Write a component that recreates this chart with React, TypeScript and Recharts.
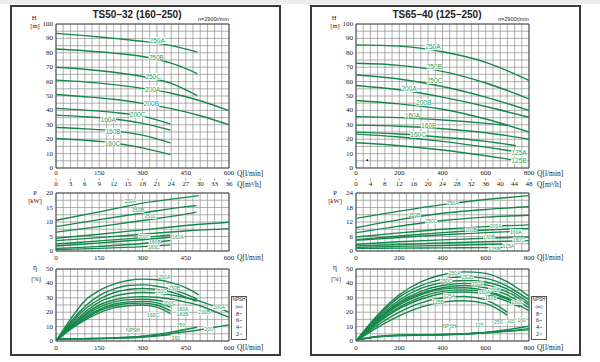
import { LineChart, Line, XAxis, YAxis, CartesianGrid, ReferenceDot, ReferenceArea } from "recharts";

type Pt = [number, number];
type Tag = [string, number, number];

const GREEN = "#15884a";
const TAG = "#2a9c5a";
const GRID = "#8e8e8e";
const INK = "#222";
const SERIF = '"Liberation Serif", "DejaVu Serif", serif';
const SANS = '"Liberation Sans", Arial, sans-serif';

// ---- axis ticks ----
const qLabelsL = [0, 150, 300, 450, 600];
const qLabelsR = [0, 200, 400, 600, 800];
const m3LabelsL = [0, 3, 6, 9, 12, 15, 18, 21, 24, 27, 30, 33, 36];
const m3LabelsR = [0, 4, 8, 12, 16, 20, 24, 28, 32, 36, 40, 44, 48];
const hLabels = [0, 10, 20, 30, 40, 50, 60, 70, 80, 90, 100];
const pLabelsL = [0, 5, 10, 15, 20];
const pLabelsR = [0, 6, 12, 18, 24];
const etaLabels = [0, 10, 20, 30, 40, 50];
const npshLabels = [2, 4, 6, 8];

const qGridL = Array.from({ length: 25 }, (_, i) => i * 25);
const qGridR = Array.from({ length: 25 }, (_, i) => (i * 800) / 24);
const hGrid = Array.from({ length: 21 }, (_, i) => i * 5);
const pGridL = Array.from({ length: 9 }, (_, i) => i * 2.5);
const pGridR = Array.from({ length: 9 }, (_, i) => i * 3);
const etaGrid = Array.from({ length: 11 }, (_, i) => i * 5);

// ---- TS50-32 head (Q l/min, H m) ----
const hL250A: Pt[] = [[0, 93.5], [100, 91.9], [200, 90], [300, 88], [400, 85], [490, 80.5]];
const hL250B: Pt[] = [[0, 82.6], [100, 81.4], [200, 79.8], [300, 77.4], [400, 72.8], [490, 65.6]];
const hL250C: Pt[] = [[0, 70], [100, 68.6], [200, 66.5], [300, 63.5], [400, 58.8], [490, 50.2]];
const hL200A: Pt[] = [[0, 61], [100, 59.8], [200, 57.9], [300, 55.3], [400, 51.9], [500, 46.7], [600, 39.8]];
const hL200B: Pt[] = [[0, 51], [100, 49.5], [200, 47.7], [300, 44.9], [400, 41.2], [500, 36.3], [600, 30]];
const hL200C: Pt[] = [[0, 41.4], [100, 40.2], [200, 38.6], [300, 36], [397, 30.5]];
const hL160A: Pt[] = [[0, 36.7], [100, 35.6], [200, 34], [300, 31], [397, 26.3]];
const hL160B: Pt[] = [[0, 28.1], [100, 27.2], [200, 25.8], [300, 22.8], [397, 17.4]];
const hL160C: Pt[] = [[0, 20.5], [100, 19.3], [200, 17.4], [300, 14], [397, 9.3]];
const hTagsL: Tag[] = [["250A", 351, 88.5], ["250B", 348, 77], ["250C", 337, 63.5], ["200A", 335, 54.7], ["200B", 331, 44.7], ["200C", 283, 37.2], ["160A", 181, 34], ["160B", 198, 25.5], ["160C", 196, 17.2]];

// ---- TS50-32 power (kW) ----
const pL250A: Pt[] = [[0, 10.6], [150, 13.5], [300, 16.5], [450, 18.5], [495, 19.1]];
const pL250B: Pt[] = [[0, 8.4], [150, 10.8], [300, 13.1], [450, 15.3], [487, 15.7]];
const pL250C: Pt[] = [[0, 6.5], [150, 8.4], [300, 10.5], [450, 12.7], [487, 13.4]];
const pL200A: Pt[] = [[0, 4.4], [150, 5.8], [300, 7.3], [450, 8.8], [600, 9.9]];
const pL200B: Pt[] = [[0, 3.6], [150, 4.6], [300, 5.8], [450, 6.9], [600, 7.7]];
const pL200C: Pt[] = [[0, 2.4], [150, 3.5], [300, 4.6], [397, 5.5]];
const pL160A: Pt[] = [[0, 1.7], [150, 2.8], [300, 3.9], [397, 4.7]];
const pL160B: Pt[] = [[0, 0.9], [150, 1.6], [300, 2.6], [397, 3.6]];
const pL160C: Pt[] = [[0, 0.5], [150, 0.9], [300, 1.5], [397, 2.1]];
const pTagsL: Tag[] = [["250A", 258, 17.1], ["250B", 285, 14], ["250C", 328, 11.9], ["200C", 306, 5], ["160A", 423, 4.7], ["160B", 343, 3], ["160C", 339, 1.4]];

// ---- TS50-32 efficiency (%) ----
const eL250A: Pt[] = [[0, 0], [50, 15], [100, 28], [150, 35], [200, 39.5], [250, 42], [300, 43], [350, 42.5], [400, 40.5], [450, 37], [495, 32]];
const eL250B: Pt[] = [[0, 0], [50, 13], [100, 24], [150, 31.5], [200, 36], [250, 38.5], [300, 39], [350, 38], [400, 36], [450, 32.5], [490, 29]];
const eL250C: Pt[] = [[0, 0], [50, 12], [100, 22], [150, 29], [200, 33.5], [250, 35.8], [300, 36.5], [350, 35.8], [400, 34], [450, 30.5], [487, 27.5]];
const eL200A: Pt[] = [[0, 0], [50, 11], [100, 20], [150, 27], [200, 31], [250, 33], [300, 33.7], [350, 33.3], [400, 32], [450, 30], [500, 27.5], [550, 24], [600, 20]];
const eL200B: Pt[] = [[0, 0], [50, 10], [100, 18.5], [150, 25], [200, 28.5], [250, 30.3], [300, 30.8], [350, 30.4], [400, 29], [450, 27], [500, 24.5], [550, 20.5], [600, 16.5]];
const eL200C: Pt[] = [[0, 0], [50, 9.5], [100, 17.5], [150, 23.5], [200, 27], [250, 28.7], [300, 29], [350, 28.3], [397, 26]];
const eL160A: Pt[] = [[0, 0], [50, 9], [100, 16.5], [150, 22], [200, 25.5], [250, 27.2], [300, 27.5], [350, 26.5], [397, 23.5]];
const eL160B: Pt[] = [[0, 0], [50, 8.5], [100, 15.5], [150, 21], [200, 24.3], [250, 26], [300, 26.3], [350, 25], [397, 21]];
const eL160C: Pt[] = [[0, 0], [50, 8], [100, 14.5], [150, 19.5], [200, 23], [250, 24.5], [300, 25], [350, 23.5], [397, 19]];
const eTagsL: Tag[] = [["250A", 376, 44.7], ["250B", 410, 36.7], ["250C", 364, 34.4], ["200C", 393, 26.7], ["160A", 439, 22.1], ["160B", 439, 18.6], ["160C", 336, 18.1], ["200A", 566, 23.3], ["200B", 514, 19.8]];

// ---- TS50-32 NPSH (m) ----
const nL250: Pt[] = [[0, 0.6], [100, 0.7], [200, 0.9], [300, 1.4], [400, 2.6], [490, 4]];
const nL200: Pt[] = [[0, 0.6], [100, 0.7], [200, 0.9], [300, 1.3], [400, 2.2], [500, 3.3], [600, 4.7]];
const nL160: Pt[] = [[0, 0.6], [100, 0.6], [200, 0.8], [300, 1.1], [397, 1.8]];
const nTagsL: Tag[] = [["NPSH", 267, 3.1], ["250", 433, 4.7], ["200", 529, 3.6], ["160", 416, 1]];

// ---- TS65-40 head ----
const hR250A: Pt[] = [[0, 85.5], [200, 84.6], [400, 80.7], [600, 73.4], [800, 60.8]];
const hR250B: Pt[] = [[0, 72.7], [200, 71.3], [400, 67.1], [600, 59], [800, 48]];
const hR250C: Pt[] = [[0, 64.6], [200, 61.8], [400, 56.6], [600, 49.2], [800, 39.9]];
const hR200A: Pt[] = [[0, 57.3], [200, 54.3], [400, 49.2], [600, 42.7], [800, 35.2]];
const hR200B: Pt[] = [[0, 46.9], [200, 44.5], [400, 40.8], [600, 34], [800, 25]];
const hR160A: Pt[] = [[0, 35.7], [200, 35], [400, 33.3], [600, 31], [700, 29.6]];
const hR160B: Pt[] = [[0, 29.8], [200, 29], [400, 27.3], [600, 24.5], [800, 20]];
const hR160C: Pt[] = [[0, 24.9], [200, 23.6], [400, 21.4], [600, 18.5], [740, 15.5]];
const hR125A: Pt[] = [[0, 23.5], [200, 21.5], [400, 18.5], [600, 14.5], [720, 11.8]];
const hR125B: Pt[] = [[0, 17.5], [200, 15.5], [400, 12.5], [600, 8.5], [720, 5.8]];
const hTagsR: Tag[] = [["250A", 356, 84.1], ["250B", 363, 70.2], ["250C", 363, 60.6], ["200A", 245, 55], ["200B", 313, 45.5], ["160A", 261, 36.8], ["160B", 336, 29.8], ["160C", 287, 23.3], ["125A", 754, 10.5], ["125B", 754, 4.9]];

// ---- TS65-40 power ----
const pR250A: Pt[] = [[0, 13.5], [200, 16.5], [400, 19.2], [600, 21.3], [800, 22.9]];
const pR250B: Pt[] = [[0, 9.6], [200, 13], [400, 15.6], [600, 17.2], [800, 18.3]];
const pR250C: Pt[] = [[0, 7.6], [200, 10.3], [400, 12.6], [600, 14], [800, 14.8]];
const pR200A: Pt[] = [[0, 5.8], [200, 7.5], [400, 9], [600, 10.1], [800, 10.8]];
const pR200B: Pt[] = [[0, 4.7], [200, 6.2], [400, 7.6], [600, 8.7], [800, 9.3]];
const pR160A: Pt[] = [[0, 4.4], [200, 5.6], [400, 6.7], [600, 7.6], [760, 8.2]];
const pR160B: Pt[] = [[0, 2.8], [200, 3.8], [400, 4.6], [600, 5.3], [800, 5.8]];
const pR160C: Pt[] = [[0, 2.1], [200, 2.7], [400, 3.3], [600, 3.8], [800, 4.3]];
const pR125A: Pt[] = [[0, 1.5], [200, 1.9], [400, 2.3], [600, 2.7], [710, 2.9]];
const pR125B: Pt[] = [[0, 1.1], [200, 1.2], [400, 1.3], [600, 1.4], [710, 1.5]];
const pTagsR: Tag[] = [["250A", 447, 19.7], ["250B", 271, 14.9], ["250C", 348, 12.4], ["200A", 647, 10.3], ["200B", 532, 8.7], ["160A", 739, 8], ["160B", 616, 5.7], ["160C", 752, 4.6], ["125A", 705, 2.2], ["125B", 640, 1.0]];

// ---- TS65-40 efficiency ----
const eR250A: Pt[] = [[0, 0], [100, 18], [200, 32], [300, 41], [400, 46], [500, 48], [600, 47], [700, 41], [800, 31]];
const eR250B: Pt[] = [[0, 0], [100, 17], [200, 30.5], [300, 38.5], [400, 43], [500, 44.5], [600, 43.5], [700, 38], [800, 28.5]];
const eR250C: Pt[] = [[0, 0], [100, 16], [200, 28.5], [300, 36.5], [400, 40.5], [500, 42], [600, 41], [700, 36], [800, 26.5]];
const eR200A: Pt[] = [[0, 0], [100, 15], [200, 27], [300, 34.5], [400, 38.5], [500, 40], [600, 39], [700, 34], [800, 25]];
const eR200B: Pt[] = [[0, 0], [100, 14.5], [200, 26], [300, 33], [400, 37], [500, 38.5], [600, 37], [700, 32], [800, 23]];
const eR160A: Pt[] = [[0, 0], [100, 14], [200, 25], [300, 32], [400, 36], [500, 37], [600, 35], [700, 30], [740, 27]];
const eR160B: Pt[] = [[0, 0], [100, 13], [200, 23.5], [300, 30.5], [400, 34.5], [500, 35.5], [600, 34], [700, 29], [800, 21]];
const eR160C: Pt[] = [[0, 0], [100, 12.5], [200, 22.5], [300, 29], [400, 33], [500, 34], [600, 32.5], [700, 27.5], [760, 23.5]];
const eR125A: Pt[] = [[0, 0], [100, 11], [200, 20], [300, 26.5], [400, 30], [500, 31], [600, 28.5], [700, 20]];
const eR125B: Pt[] = [[0, 0], [100, 9.5], [200, 17.5], [300, 23.5], [400, 27], [500, 28], [600, 26], [700, 18]];
const eTagsR: Tag[] = [["250A", 455, 47.5], ["250B", 516, 44.5], ["250C", 417, 41.9], ["200A", 562, 39.6], ["200B", 640, 35.5], ["160A", 593, 33.8], ["160B", 624, 29.6], ["160C", 746, 26.9], ["125A", 432, 31.5], ["125B", 379, 27.3]];

// ---- TS65-40 NPSH ----
const nR125: Pt[] = [[0, 0.3], [100, 1.3], [200, 1.7], [300, 1.8], [400, 1.9], [500, 2.1], [600, 2.5], [700, 3]];
const nR250: Pt[] = [[0, 0.3], [100, 1.3], [200, 1.7], [300, 1.8], [400, 1.9], [500, 2.1], [600, 2.4], [700, 2.8], [800, 3.3]];
const nR200: Pt[] = [[0, 0.3], [100, 1.2], [200, 1.6], [300, 1.7], [400, 1.8], [500, 2], [600, 2.4], [700, 2.9], [800, 3.6]];
const nR160: Pt[] = [[0, 0.3], [100, 1.2], [200, 1.6], [300, 1.7], [400, 1.8], [500, 2], [600, 2.5], [700, 3.3], [800, 4.3]];
const nTagsR: Tag[] = [["NPSH", 432, 4.5], ["125", 570, 4.7], ["250", 659, 5.4], ["200", 716, 5.7], ["160", 766, 6.2]];

const rows = (pts: Pt[]) => pts.map(([q, v]) => ({ q, v }));

function QTick(props: any) {
  const { x, y, payload, labels, dy, unit, last, marks } = props;
  const v = payload.value;
  if (!labels.some((l: number) => Math.abs(l - v) < 1e-6)) return <g />;
  return (
    <g>
      {marks && <line x1={x} x2={x} y1={y + 0.5} y2={y + 2.5} stroke="#444" strokeWidth={0.6} />}
      <text x={x} y={y + dy} textAnchor="middle" dominantBaseline="central" fontSize={7} fontFamily={SERIF} fill={INK}>
        {Math.round(v)}
      </text>
      {unit && Math.abs(v - last) < 1e-6 && (
        <text x={x + 8} y={y + dy} textAnchor="start" dominantBaseline="central" fontSize={7.5} fontFamily={SERIF} fill={INK}>
          {unit}
        </text>
      )}
    </g>
  );
}

function YTick(props: any) {
  const { x, y, payload, labels } = props;
  const v = payload.value;
  if (!labels.some((l: number) => Math.abs(l - v) < 1e-6)) return <g />;
  return (
    <text x={x - 3} y={y} textAnchor="end" dominantBaseline="central" fontSize={7} fontFamily={SERIF} fill={INK}>
      {v}
    </text>
  );
}

function NpshTick(props: any) {
  const { x, y, payload } = props;
  return (
    <g>
      <text x={x + 10} y={y} textAnchor="end" dominantBaseline="central" fontSize={6} fontFamily={SERIF} fill={INK}>
        {payload.value}
      </text>
      <line x1={x + 10.5} x2={x + 13} y1={y} y2={y} stroke="#444" strokeWidth={0.6} />
    </g>
  );
}

function CurveTag({ cx, cy, text, size }: { cx: number; cy: number; text: string; size: number }) {
  const w = text.length * size * 0.56 + 1;
  const h = size;
  return (
    <g>
      <rect x={cx - w / 2} y={cy - h / 2} width={w} height={h} fill="#fff" />
      <text x={cx} y={cy} textAnchor="middle" dominantBaseline="central" fontSize={size} fontFamily={SANS} fill={TAG}>
        {text}
      </text>
    </g>
  );
}

interface PlotProps {
  left: number;
  top: number;
  height: number;
  marginTop: number;
  axisH: number;
  labelDy: number;
  tagSize: number;
  qMax: number;
  qGrid: number[];
  qLabels: number[];
  yMax: number;
  yGrid: number[];
  yLabels: number[];
  curves: Pt[][];
  tags: Tag[];
  m3?: number[];
  npsh?: Pt[][];
  npshTags?: Tag[];
  strays?: Pt[];
}

function Plot(p: PlotProps) {
  const hasN = !!p.npsh;
  return (
    <div style={{ position: "absolute", left: p.left, top: p.top }}>
      <LineChart width={258} height={p.height} margin={{ top: p.marginTop, right: hasN ? 25 : 43, left: 0, bottom: 0 }}>
        <CartesianGrid stroke={GRID} strokeWidth={0.7} />
        <XAxis
          dataKey="q"
          type="number"
          domain={[0, p.qMax]}
          allowDataOverflow
          ticks={p.qGrid}
          interval={0}
          height={p.axisH}
          tickSize={0}
          tickMargin={0}
          axisLine={false}
          tickLine={false}
          tick={<QTick labels={p.qLabels} dy={p.labelDy} unit="Q[l/min]" last={p.qMax} />}
        />
        {p.m3 && (
          <XAxis
            xAxisId="m3"
            dataKey="q"
            type="number"
            domain={[0, p.m3[p.m3.length - 1]]}
            allowDataOverflow
            ticks={p.m3}
            interval={0}
            height={12}
            tickSize={0}
            tickMargin={0}
            axisLine={false}
            tickLine={false}
            tick={<QTick labels={p.m3} dy={6} unit="Q[m³/h]" last={p.m3[p.m3.length - 1]} marks />}
          />
        )}
        <YAxis
          type="number"
          domain={[0, p.yMax]}
          allowDataOverflow
          ticks={p.yGrid}
          interval={0}
          width={42}
          tickSize={0}
          tickMargin={0}
          axisLine={false}
          tickLine={false}
          tick={<YTick labels={p.yLabels} />}
        />
        {hasN && (
          <YAxis
            yAxisId="npsh"
            orientation="right"
            type="number"
            domain={[0, 21]}
            allowDataOverflow
            ticks={npshLabels}
            interval={0}
            width={18}
            tickSize={0}
            tickMargin={0}
            axisLine={false}
            tickLine={false}
            tick={<NpshTick />}
          />
        )}
        <ReferenceArea x1={0} x2={p.qMax} y1={0} y2={p.yMax} fill="none" stroke="#3a3a3a" strokeWidth={0.9} />
        {p.curves.map((c, i) => (
          <Line
            key={"c" + i}
            data={rows(c)}
            dataKey="v"
            type="monotone"
            stroke={GREEN}
            strokeWidth={1.4}
            dot={false}
            activeDot={false}
            isAnimationActive={false}
          />
        ))}
        {p.npsh?.map((c, i) => (
          <Line
            key={"n" + i}
            yAxisId="npsh"
            data={rows(c)}
            dataKey="v"
            type="monotone"
            stroke={GREEN}
            strokeWidth={1.4}
            dot={false}
            activeDot={false}
            isAnimationActive={false}
          />
        ))}
        {p.tags.map(([t, q, v]) => (
          <ReferenceDot
            key={"t" + t}
            x={q}
            y={v}
            r={3}
            shape={(s: any) => <CurveTag cx={s.cx} cy={s.cy} text={t} size={p.tagSize} />}
          />
        ))}
        {p.npshTags?.map(([t, q, v]) => (
          <ReferenceDot
            key={"nt" + t}
            yAxisId="npsh"
            x={q}
            y={v}
            r={3}
            shape={(s: any) => <CurveTag cx={s.cx} cy={s.cy} text={t} size={p.tagSize} />}
          />
        ))}
        {p.strays?.map(([q, v], i) => (
          <ReferenceDot key={"s" + i} x={q} y={v} r={0.9} fill="#111" stroke="none" />
        ))}
      </LineChart>
    </div>
  );
}

const txt = (s: React.CSSProperties): React.CSSProperties => ({
  position: "absolute",
  whiteSpace: "nowrap",
  lineHeight: 1,
  color: INK,
  ...s,
});

function Panel(props: {
  ox: number;
  title: string;
  qMax: number;
  qGrid: number[];
  qLabels: number[];
  m3: number[];
  h: Pt[][];
  hTags: Tag[];
  pMax: number;
  pGrid: number[];
  pLabels: number[];
  pw: Pt[][];
  pTags: Tag[];
  eta: Pt[][];
  eTags: Tag[];
  npsh: Pt[][];
  nTags: Tag[];
  strays?: Pt[];
}) {
  const { ox } = props;
  const unit = (x: number, y: number, s: string, size = 6.5) => (
    <div style={txt({ left: ox + x, top: y, transform: "translate(-50%, -50%)", fontFamily: SERIF, fontSize: size })}>{s}</div>
  );
  return (
    <>
      <div
        style={{
          position: "absolute",
          left: ox + 10,
          top: 5,
          width: 271,
          height: 351,
          border: "2px solid #3a3a3a",
          boxSizing: "border-box",
          background: "#fff",
        }}
      />
      <div style={txt({ left: ox + 137, top: 15, transform: "translate(-50%, -50%)", fontFamily: SANS, fontWeight: 700, fontSize: 10 })}>
        {props.title}
      </div>
      <div style={txt({ left: ox + 198, top: 20, transform: "translateY(-50%)", fontFamily: SANS, fontSize: 5.5 })}>n=2900r/min</div>
      {unit(34, 18, "H")}
      {unit(35, 26, "[m]")}
      {unit(35, 193, "P")}
      {unit(35, 201, "[kW]")}
      {unit(35, 268, "η", 7.5)}
      {unit(36, 279, "[%]")}
      <Plot
        left={ox + 14}
        top={12}
        height={178}
        marginTop={12}
        axisH={10}
        labelDy={5}
        tagSize={6.5}
        qMax={props.qMax}
        qGrid={props.qGrid}
        qLabels={props.qLabels}
        yMax={100}
        yGrid={hGrid}
        yLabels={hLabels}
        curves={props.h}
        tags={props.hTags}
        m3={props.m3}
        strays={props.strays}
      />
      <Plot
        left={ox + 14}
        top={183}
        height={82}
        marginTop={10}
        axisH={14}
        labelDy={6.5}
        tagSize={5}
        qMax={props.qMax}
        qGrid={props.qGrid}
        qLabels={props.qLabels}
        yMax={props.pMax}
        yGrid={props.pGrid}
        yLabels={props.pLabels}
        curves={props.pw}
        tags={props.pTags}
      />
      <div
        style={{
          position: "absolute",
          left: ox + 231,
          top: 296,
          width: 16,
          height: 44,
          border: "1px solid #555",
          boxSizing: "border-box",
          background: "#fff",
        }}
      />
      <div style={txt({ left: ox + 239, top: 300, transform: "translate(-50%, -50%)", fontFamily: SANS, fontSize: 4.6 })}>NPSH</div>
      <div style={txt({ left: ox + 239, top: 306, transform: "translate(-50%, -50%)", fontFamily: SERIF, fontSize: 5 })}>(m)</div>
      <Plot
        left={ox + 14}
        top={259}
        height={96}
        marginTop={10}
        axisH={14}
        labelDy={6.5}
        tagSize={5}
        qMax={props.qMax}
        qGrid={props.qGrid}
        qLabels={props.qLabels}
        yMax={50}
        yGrid={etaGrid}
        yLabels={etaLabels}
        curves={props.eta}
        tags={props.eTags}
        npsh={props.npsh}
        npshTags={props.nTags}
      />
    </>
  );
}

export default function App() {
  return (
    <div style={{ position: "absolute", left: 0, top: 0, width: 600, height: 362, background: "#fff", overflow: "hidden" }}>
      <div style={{ position: "absolute", left: 0, top: 0, width: 600, height: 4, background: "#ececec" }} />
      <Panel
        ox={0}
        title="TS50–32 (160–250)"
        qMax={600}
        qGrid={qGridL}
        qLabels={qLabelsL}
        m3={m3LabelsL}
        h={[hL250A, hL250B, hL250C, hL200A, hL200B, hL200C, hL160A, hL160B, hL160C]}
        hTags={hTagsL}
        pMax={20}
        pGrid={pGridL}
        pLabels={pLabelsL}
        pw={[pL250A, pL250B, pL250C, pL200A, pL200B, pL200C, pL160A, pL160B, pL160C]}
        pTags={pTagsL}
        eta={[eL250A, eL250B, eL250C, eL200A, eL200B, eL200C, eL160A, eL160B, eL160C]}
        eTags={eTagsL}
        npsh={[nL250, nL200, nL160]}
        nTags={nTagsL}
      />
      <Panel
        ox={300}
        title="TS65–40 (125–250)"
        qMax={800}
        qGrid={qGridR}
        qLabels={qLabelsR}
        m3={m3LabelsR}
        h={[hR250A, hR250B, hR250C, hR200A, hR200B, hR160A, hR160B, hR160C, hR125A, hR125B]}
        hTags={hTagsR}
        pMax={24}
        pGrid={pGridR}
        pLabels={pLabelsR}
        pw={[pR250A, pR250B, pR250C, pR200A, pR200B, pR160A, pR160B, pR160C, pR125A, pR125B]}
        pTags={pTagsR}
        eta={[eR250A, eR250B, eR250C, eR200A, eR200B, eR160A, eR160B, eR160C, eR125A, eR125B]}
        eTags={eTagsR}
        npsh={[nR125, nR250, nR200, nR160]}
        nTags={nTagsR}
        strays={[[52, 5.4]]}
      />
    </div>
  );
}
